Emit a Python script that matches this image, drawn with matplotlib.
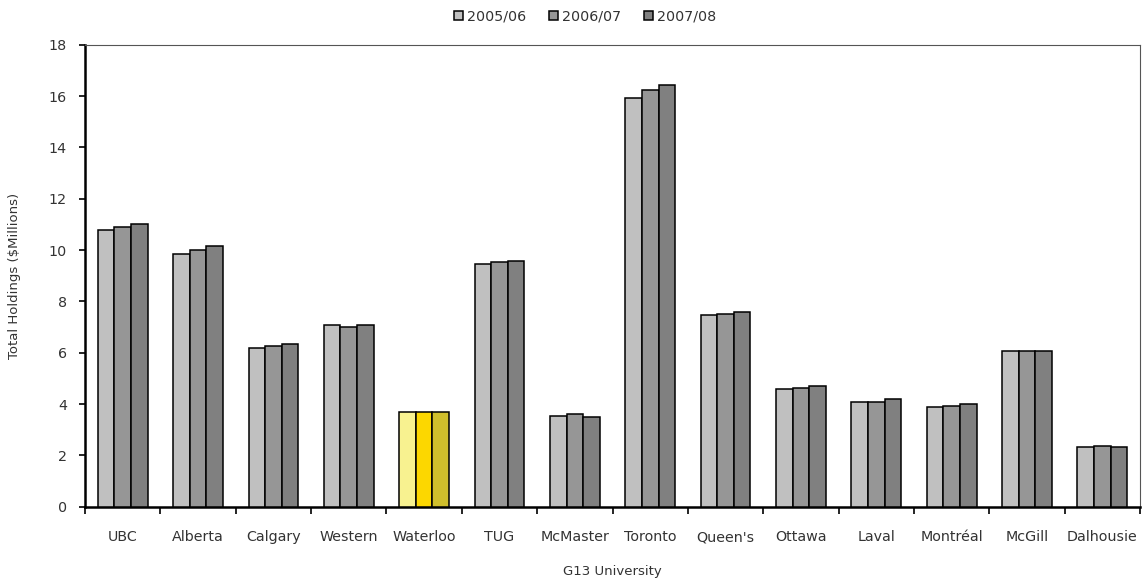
import numpy as np
import matplotlib
matplotlib.use("Agg")
import matplotlib.pyplot as plt

universities = ["UBC", "Alberta", "Calgary", "Western", "Waterloo", "TUG", "McMaster",
                "Toronto", "Queen's", "Ottawa", "Laval", "Montréal", "McGill", "Dalhousie"]
years = ["2005/06", "2006/07", "2007/08"]
v2005 = [10.78, 9.85, 6.2, 7.08, 3.7, 9.45, 3.55, 15.92, 7.45, 4.57, 4.07, 3.88, 6.08, 2.32]
v2006 = [10.9, 10.0, 6.26, 7.0, 3.7, 9.52, 3.63, 16.22, 7.52, 4.64, 4.07, 3.94, 6.08, 2.37]
v2007 = [11.02, 10.15, 6.32, 7.08, 3.7, 9.58, 3.5, 16.42, 7.58, 4.7, 4.19, 4.0, 6.08, 2.32]

grays = ["#C0C0C0", "#969696", "#808080"]
yellows = ["#F8F290", "#FCD700", "#D0BF2C"]
highlight = "Waterloo"

plt.rcParams['font.family'] = ['DejaVu Sans']
txt = "#333333"

fig = plt.figure(figsize=(11.43, 5.82), dpi=100)
ax = fig.add_axes([0.0744, 0.1294, 0.923, 0.7938])

x = np.arange(len(universities))
w = 0.22
series = [v2005, v2006, v2007]
for i, vals in enumerate(series):
    cols = [yellows[i] if u == highlight else grays[i] for u in universities]
    ax.bar(x + (i - 1) * w, vals, w, color=cols, edgecolor="black", linewidth=1.1,
           label=years[i], zorder=3)

ax.set_xlim(-0.5, len(universities) - 0.5)
ax.set_ylim(0, 18)
ax.set_yticks(range(0, 19, 2))
ax.set_xticks(x)
ax.set_xticklabels(universities)
ax.set_xticks(np.arange(-0.5, len(universities), 1), minor=True)
ax.tick_params(axis="x", which="major", length=0, pad=17, labelsize=10.3, labelcolor=txt)
ax.tick_params(axis="x", which="minor", length=5, width=1.2, direction="out")
ax.tick_params(axis="y", length=4, width=1.2, direction="out", pad=9, labelsize=10.3,
               labelcolor=txt)

for s in ["left", "bottom"]:
    ax.spines[s].set_linewidth(1.8)
    ax.spines[s].set_color("black")
for s in ["top", "right"]:
    ax.spines[s].set_linewidth(0.8)
    ax.spines[s].set_color("#555555")

ax.set_xlabel("G13 University", fontsize=9.5, color=txt, labelpad=15)
ax.set_ylabel("Total Holdings ($Millions)", fontsize=9.5, color=txt, labelpad=20)

leg = fig.legend(loc="upper center", bbox_to_anchor=(0.512, 1.005), ncol=3, frameon=False,
                 fontsize=10.3, handlelength=0.6, handleheight=0.6, handletextpad=0.3,
                 columnspacing=1.6)
for t in leg.get_texts():
    t.set_color(txt)
for h in leg.legend_handles:
    h.set_edgecolor("black")

fig.savefig("out.png", dpi=100)
